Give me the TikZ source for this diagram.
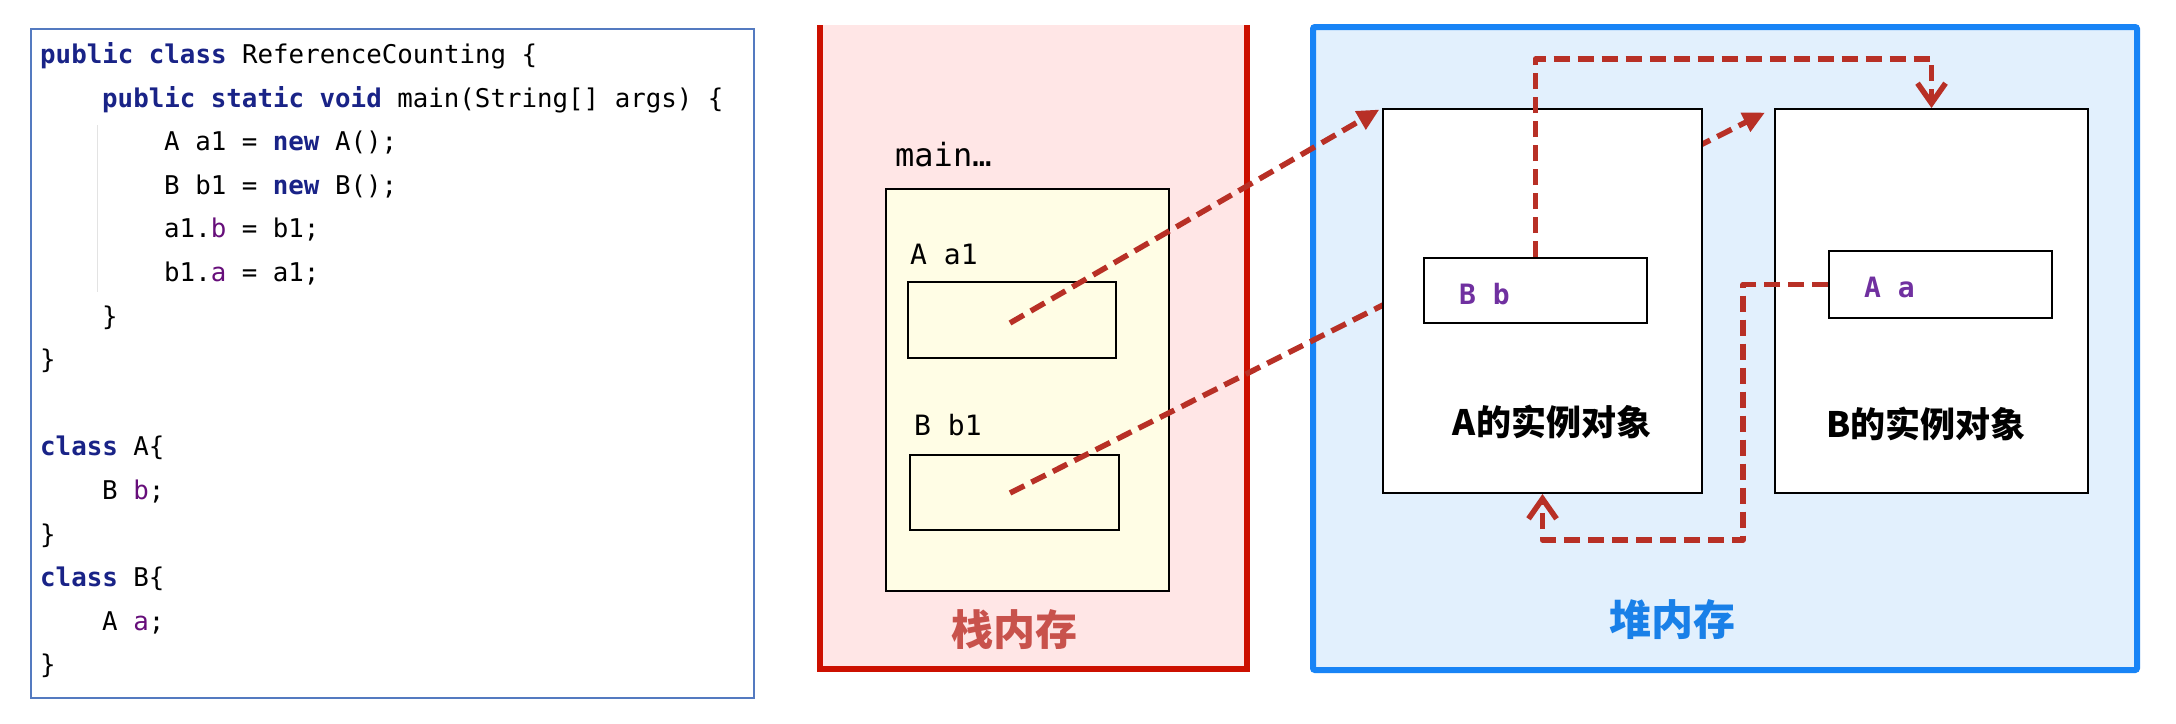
\documentclass[tikz,border=0pt]{standalone}
\usepackage{fontspec}
\setmainfont{DejaVu Sans}
\newfontfamily\codefont{DejaVu Sans Mono}
\newfontfamily\cjkfont{Noto Sans CJK SC}
\usetikzlibrary{arrows.meta}
\definecolor{codeborder}{RGB}{84,122,192}
\definecolor{kwblue}{RGB}{25,35,135}
\definecolor{fldpurple}{RGB}{102,14,122}
\definecolor{lblpurple}{RGB}{112,48,160}
\definecolor{stackred}{RGB}{204,16,0}
\definecolor{stackfill}{RGB}{255,230,230}
\definecolor{stacklabel}{RGB}{200,82,76}
\definecolor{yellowfill}{RGB}{255,253,229}
\definecolor{heapblue}{RGB}{24,132,246}
\definecolor{heapfill}{RGB}{226,240,253}
\definecolor{heaplabel}{RGB}{25,128,232}
\definecolor{refred}{RGB}{184,48,38}
\newcommand\jkw[1]{\textcolor{kwblue}{\bfseries #1}}
\newcommand\jfld[1]{\textcolor{fldpurple}{#1}}
\begin{document}
\begin{tikzpicture}[x=1pt,y=-1pt,
  codeline/.style={anchor=base west,inner sep=0pt,font=\codefont\fontsize{25.8}{30}\selectfont},
  varlbl/.style={anchor=base west,inner sep=0pt,font=\codefont\fontsize{28}{32}\selectfont},
  fldlbl/.style={anchor=base west,inner sep=0pt,text=lblpurple,font=\codefont\bfseries\fontsize{28}{32}\selectfont},
  objlbl/.style={inner sep=0pt,font=\cjkfont\bfseries\fontsize{35}{40}\selectfont},
  arealbl/.style={inner sep=0pt,font=\cjkfont\bfseries\fontsize{42}{46}\selectfont},
  boxnode/.style={draw=black,line width=2pt,anchor=north west,inner sep=0pt},
  refline/.style={draw=refred,line width=5.5pt,dash pattern=on 16pt off 8pt},
  fillhead/.style={-{Triangle[length=22pt,width=20pt]}},
  openhead/.style={-{Straight Barb[length=20pt,width=28pt]}}]
\useasboundingbox (0,0) rectangle (2176,723);
\fill[white] (0,0) rectangle (2176,723);

% ---------- code panel ----------
\node[draw=codeborder,line width=2pt,anchor=north west,inner sep=0pt,
      minimum width=723pt,minimum height=669pt] (codepanel) at (30,28) {};
\draw[gray!22,line width=1pt] (97,125) -- (97,292);
\node[codeline] (c0) at (40,63.5) {\jkw{public} \jkw{class} ReferenceCounting \{};
\node[codeline] (c1) at (102,107.1) {\jkw{public} \jkw{static} \jkw{void} main(String[] args) \{};
\node[codeline] (c2) at (164,150.7) {A a1 = \jkw{new} A();};
\node[codeline] (c3) at (164,194.3) {B b1 = \jkw{new} B();};
\node[codeline] (c4) at (164,237.9) {a1.\jfld{b} = b1;};
\node[codeline] (c5) at (164,281.5) {b1.\jfld{a} = a1;};
\node[codeline] (c6) at (102,325.1) {\}};
\node[codeline] (c7) at (40,368.7) {\}};
\node[codeline] (c9) at (40,455.9) {\jkw{class} A\{};
\node[codeline] (c10) at (102,499.5) {B \jfld{b};};
\node[codeline] (c11) at (40,543.1) {\}};
\node[codeline] (c12) at (40,586.7) {\jkw{class} B\{};
\node[codeline] (c13) at (102,630.3) {A \jfld{a};};
\node[codeline] (c14) at (40,673.9) {\}};

% ---------- stack ----------
\fill[stackfill] (820,25) rectangle (1247,669);
\draw[stackred,line width=6pt] (820,25) -- (820,669) -- (1247,669) -- (1247,25);
\node[anchor=base west,inner sep=0pt,font=\codefont\fontsize{32}{36}\selectfont] (mainlbl) at (895,166) {main…};
\node[boxnode,fill=yellowfill,minimum width=283pt,minimum height=402pt] (frame) at (885,188) {};
\node[varlbl] (a1lbl) at (910,264) {A a1};
\node[boxnode,minimum width=208pt,minimum height=76pt] (a1box) at (907,281) {};
\node[varlbl] (b1lbl) at (914,435) {B b1};
\node[boxnode,minimum width=209pt,minimum height=75pt] (b1box) at (909,454) {};
\node[arealbl,text=stacklabel] (stacklbl) at (1014,630) {栈内存};
\coordinate (a1src) at (1010,323);
\coordinate (b1src) at (1010,493);

% ---------- heap ----------
\draw[heapblue,line width=6pt,fill=heapfill,rounded corners=2pt] (1313,27) rectangle (2137,670);
\node[arealbl,text=heaplabel] (heaplbl) at (1672,620) {堆内存};

\node[boxnode,fill=white,minimum width=313pt,minimum height=384pt] (Bobj) at (1774,108) {};
\node[boxnode,fill=white,minimum width=223pt,minimum height=67pt] (Aafld) at (1828,250) {};
\node[fldlbl] (Aalbl) at (1864,297) {A a};
\node[objlbl] (Bobjlbl) at (1926,424) {B的实例对象};

% b1 -> B object (passes behind the A object)
\draw[refline,fillhead,shorten >=10pt] (b1src) -- (Bobj.north west);

\node[boxnode,fill=white,minimum width=319pt,minimum height=384pt] (Aobj) at (1382,108) {};
\node[boxnode,fill=white,minimum width=223pt,minimum height=65pt] (Bbfld) at (1423,257) {};
\node[fldlbl] (Bblbl) at (1459,304) {B b};
\node[objlbl] (Aobjlbl) at (1552,422) {A的实例对象};

% a1 -> A object
\draw[refline,fillhead,shorten >=3pt] (a1src) -- (Aobj.north west);

% A.b -> B object
\coordinate (toprow) at (0,59);
\draw[refline,openhead,line join=round] (Bbfld.north) -- (Bbfld.north |- toprow)
  -- (Bobj.north |- toprow) -- (Bobj.north);

% B.a -> A object
\coordinate (lowrow) at (1743,540);
\draw[refline,openhead,line join=round] (Aafld.west) -| (lowrow) -| (Aobj.south);
\end{tikzpicture}
\end{document}
